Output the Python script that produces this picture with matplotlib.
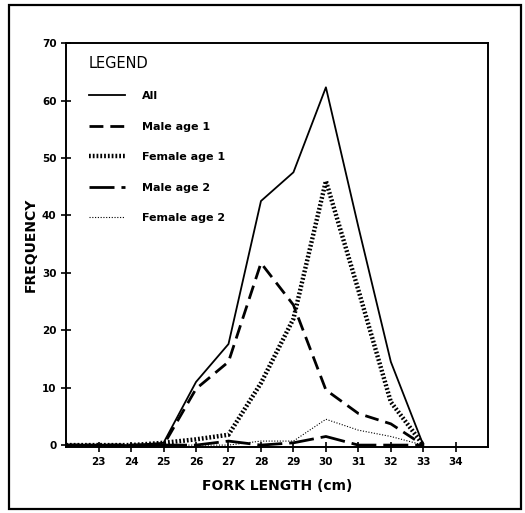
import matplotlib
matplotlib.use("Agg")
import matplotlib.pyplot as plt
from matplotlib.patches import Rectangle

# fork length classes (cm) and frequencies per group
fork_length = [22, 23, 24, 25, 26, 27, 28, 29, 30, 31, 32, 33]
all_fish = [0, 0, 0, 0.4, 11, 17.6, 42.5, 47.5, 62.3, 38, 14.5, 0]
male_age1 = [0, 0, 0, 0, 9.8, 14.5, 31.7, 24.4, 9.6, 5.5, 3.7, 0]
female_age1 = [0, 0, 0, 0.4, 1.0, 1.8, 10.8, 22, 46, 27, 7.5, 0]
male_age2 = [0, 0, 0, 0, 0, 0.7, 0, 0.4, 1.5, 0, 0, 0]
female_age2 = [0, 0, 0, 0, 0, 0, 0.7, 0.7, 4.5, 2.6, 1.5, 0]

x_ticks = [23, 24, 25, 26, 27, 28, 29, 30, 31, 32, 33, 34]
y_ticks = [0, 10, 20, 30, 40, 50, 60, 70]

plt.rcParams['font.family'] = ['DejaVu Sans']

fig = plt.figure(figsize=(5.25, 5.13), dpi=100)
ax = fig.add_axes([0.126, 0.129, 0.804, 0.787])

# outer frame around the whole figure
fig.patches.append(Rectangle((0.017, 0.008), 0.975, 0.983, transform=fig.transFigure,
                             fill=False, lw=1.6, color='black'))

ax.plot(fork_length, all_fish, color='black', lw=1.3, label='All')
ax.plot(fork_length, male_age1, color='black', lw=2.0, dashes=(5, 2.5), label='Male age 1')
ax.plot(fork_length, female_age1, color='black', lw=3.2, dashes=(0.4, 0.45), label='Female age 1')
ax.plot(fork_length, male_age2, color='black', lw=2.0, dashes=(9, 2.5), label='Male age 2')
ax.plot(fork_length, female_age2, color='black', lw=0.8, dashes=(1, 1.5), label='Female age 2')

ax.set_xlim(22, 35)
ax.set_ylim(-0.3, 70)
ax.set_xticks(x_ticks)
ax.set_yticks(y_ticks)
ax.tick_params(axis='both', direction='inout', length=7, width=1.2, labelsize=7.5)
for lab in ax.get_xticklabels() + ax.get_yticklabels():
    lab.set_fontweight('bold')
for sp in ax.spines.values():
    sp.set_linewidth(1.4)

ax.set_xlabel('FORK LENGTH (cm)', fontsize=10, fontweight='bold', labelpad=9)
ax.set_ylabel('FREQUENCY', fontsize=10, fontweight='bold', labelpad=3)

leg = ax.legend(title='LEGEND', loc='upper left', bbox_to_anchor=(0.043, 0.98),
                borderaxespad=0, frameon=False, fontsize=8,
                handlelength=3.3, handletextpad=1.5, labelspacing=1.85,
                alignment='left')
leg.get_title().set_fontsize(10.5)
for t in leg.get_texts():
    t.set_fontweight('bold')

fig.savefig('out.png', dpi=100)
